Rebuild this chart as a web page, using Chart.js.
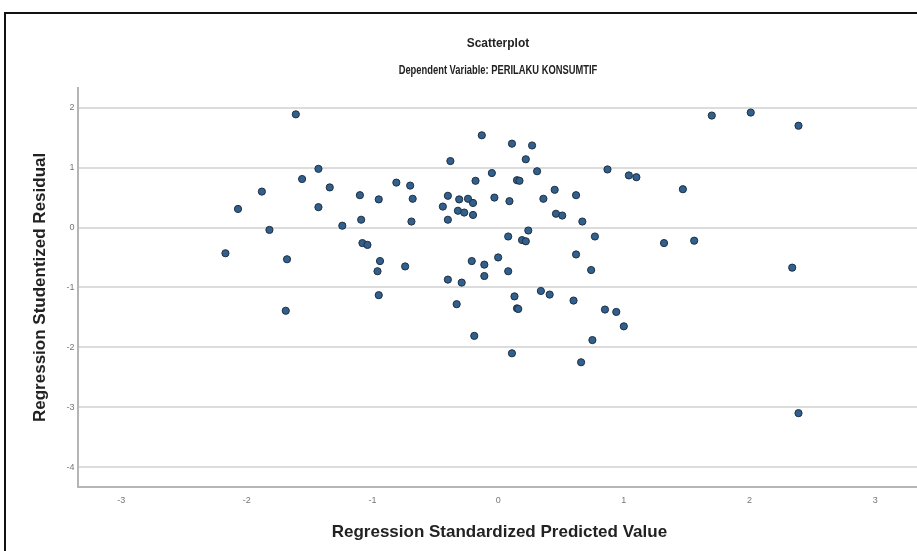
<!DOCTYPE html>
<html>
<head>
<meta charset="utf-8">
<script src="https://cdn.jsdelivr.net/npm/chart.js@4"></script>
<style>
  html, body { margin: 0; padding: 0; background: #fff; }
  #wrap { position: relative; width: 917px; height: 551px; overflow: hidden; background: #fff; }
  #frame { position: absolute; left: 4px; top: 12px; width: 940px; height: 560px; border-left: 2px solid #111; border-top: 2px solid #111; box-sizing: border-box; }
  #c { position: absolute; left: 0; top: 0; }
  .ttl { position: absolute; left: 248px; width: 500px; text-align: center; color: #222;
         font-family: 'Liberation Sans', Arial, sans-serif; white-space: nowrap; line-height: 1; }
  .ttl span { display: inline-block; transform-origin: 50% 50%; }
  #t1 { top: 36px; font-size: 13px; font-weight: bold; }
  #t1 span { transform: scaleX(0.92); }
  #t2 { top: 63px; font-size: 13px; font-weight: bold; }
  #t2 span { transform: scaleX(0.72); }
</style>
</head>
<body>
<div id="wrap">
  <div id="frame"></div>
  <canvas id="c" width="925" height="551"></canvas>
  <div class="ttl" id="t1"><span id="title1"></span></div>
  <div class="ttl" id="t2"><span id="title2"></span></div>
</div>
<script>
// Regression Standardized Predicted Value (x) and Studentized Residual (y)
const predictedValues = [
  -2.17, -2.07, -1.88, -1.82, -1.68, -1.69, -1.61, -1.56, -1.43, -1.43,
  -1.34, -1.24, -1.10, -1.09, -1.08, -1.04, -0.95, -0.94, -0.96, -0.95,
  -0.81, -0.74, -0.70, -0.68, -0.69, -0.44, -0.40, -0.40, -0.40, -0.38,
  -0.33, -0.32, -0.31, -0.29, -0.27, -0.24, -0.20, -0.20, -0.21, -0.19,
  -0.18, -0.13, -0.11, -0.11, -0.05, -0.03, 0.00, 0.08, 0.08, 0.09,
  0.11, 0.11, 0.13, 0.15, 0.16, 0.15, 0.17, 0.19, 0.22, 0.22,
  0.24, 0.27, 0.31, 0.34, 0.36, 0.41, 0.45, 0.46, 0.51, 0.60,
  0.62, 0.62, 0.66, 0.67, 0.74, 0.75, 0.77, 0.85, 0.87, 0.94,
  1.00, 1.04, 1.10, 1.32, 1.47, 1.56, 1.70, 2.01, 2.34, 2.39,
  2.39
];
const studentizedResiduals = [
  -0.43, 0.31, 0.60, -0.04, -0.53, -1.39, 1.89, 0.81, 0.98, 0.34,
  0.67, 0.03, 0.54, 0.13, -0.26, -0.29, 0.47, -0.56, -0.73, -1.13,
  0.75, -0.65, 0.70, 0.48, 0.10, 0.35, 0.53, 0.13, -0.87, 1.11,
  -1.28, 0.28, 0.47, -0.92, 0.25, 0.48, 0.21, 0.41, -0.56, -1.81,
  0.78, 1.54, -0.62, -0.81, 0.91, 0.50, -0.50, -0.15, -0.73, 0.44,
  1.40, -2.10, -1.15, -1.35, -1.36, 0.79, 0.78, -0.21, -0.23, 1.14,
  -0.05, 1.37, 0.94, -1.06, 0.48, -1.12, 0.63, 0.23, 0.20, -1.22,
  0.54, -0.45, -2.25, 0.10, -0.71, -1.88, -0.15, -1.37, 0.97, -1.41,
  -1.65, 0.87, 0.84, -0.26, 0.64, -0.22, 1.87, 1.92, -0.67, 1.70,
  -3.10
];
const xTicks = [-3, -2, -1, 0, 1, 2, 3];
const yTicks = [-4, -3, -2, -1, 0, 1, 2];
const chartTitle = 'Scatterplot';
const chartSubtitle = 'Dependent Variable: PERILAKU KONSUMTIF';
const xTitle = 'Regression Standardized Predicted Value';
const yTitle = 'Regression Studentized Residual';

document.getElementById('title1').textContent = chartTitle;
document.getElementById('title2').textContent = chartSubtitle;

const points = predictedValues.map((x, i) => ({ x: x, y: studentizedResiduals[i] }));

const baseFont = "'Liberation Sans', Arial, sans-serif";

new Chart(document.getElementById('c'), {
  type: 'scatter',
  data: {
    datasets: [{
      data: points,
      backgroundColor: '#31608e',
      borderColor: '#1e2f42',
      borderWidth: 1,
      pointRadius: 3.6,
      pointHoverRadius: 3.6
    }]
  },
  options: {
    responsive: false,
    animation: false,
    devicePixelRatio: 1,
    layout: { padding: { left: 30, right: 0, top: 88, bottom: 8 } },
    plugins: {
      legend: { display: false },
      tooltip: { enabled: false },
      title: { display: false }
    },
    scales: {
      x: {
        type: 'linear',
        min: -3.34,
        max: 3.36,
        afterBuildTicks: (axis) => { axis.ticks = xTicks.map(v => ({ value: v })); },
        grid: { display: false, drawTicks: false },
        border: { display: true, color: '#b5b5b5', width: 2 },
        ticks: {
          color: '#777',
          font: { family: baseFont, size: 9 },
          padding: 8,
          maxRotation: 0,
          callback: (v) => String(v)
        },
        title: {
          display: true,
          text: xTitle,
          color: '#222',
          font: { family: baseFont, size: 17, weight: 'bold' },
          padding: { top: 9, bottom: 0 }
        }
      },
      y: {
        type: 'linear',
        min: -4.33,
        max: 2.33,
        afterBuildTicks: (axis) => { axis.ticks = yTicks.map(v => ({ value: v })); },
        grid: { color: '#dcdcdc', lineWidth: 2, drawTicks: false },
        border: { display: true, color: '#b5b5b5', width: 2 },
        ticks: {
          color: '#777',
          font: { family: baseFont, size: 9 },
          padding: 4,
          callback: (v) => String(v)
        },
        title: {
          display: true,
          text: yTitle,
          color: '#222',
          font: { family: baseFont, size: 17, weight: 'bold' },
          padding: { top: 0, bottom: 12 }
        }
      }
    }
  }
});
</script>
</body>
</html>
